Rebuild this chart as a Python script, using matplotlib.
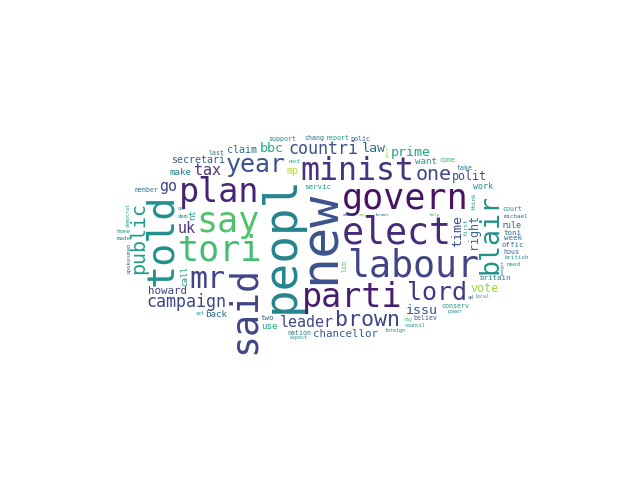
import numpy as np
import matplotlib
matplotlib.use("Agg")
import matplotlib.pyplot as plt

# word, relative size, vertical?, colour position on viridis
words = ["new", "peopl", "elect", "labour", "govern", "tori", "say", "said", "told", "parti",
         "plan", "minist", "mr", "blair", "year", "lord", "brown", "public", "one", "countri",
         "campaign", "uk", "leader", "tax", "time", "issu", "bbc", "law", "go", "prime",
         "polit", "right", "chancellor", "vote", "howard", "secretari", "claim", "mp", "want", "back",
         "nt", "make", "use", "call", "work", "rule", "servic", "two", "britain", "toni",
         "week", "offic", "conserv", "believ", "nation", "support", "member", "lib", "hous", "last",
         "chang", "report", "polic", "come", "take", "court", "michael", "british", "made", "first",
         "think", "spokesman", "home", "dem", "us", "need", "next", "local", "power", "day",
         "council", "foreign", "democrat", "expect", "ad", "set", "meet", "budget", "may", "gener",
         "former", "help", "problem", "allow", "group", "general", "mani", "increas", "million", "say"]
sizes = [62, 55, 44, 44, 42, 42, 42, 44, 46, 40,
         40, 38, 36, 32, 30, 30, 26, 24, 24, 20,
         20, 18, 18, 18, 16, 16, 16, 16, 18, 16,
         14, 14, 13, 14, 13, 12, 12, 12, 11, 11,
         11, 11, 11, 10, 10, 10, 9, 9, 9, 9,
         9, 9, 8, 8, 8, 8, 8, 8, 8, 8,
         8, 8, 8, 8, 8, 8, 7, 7, 7, 7,
         7, 7, 7, 7, 7, 7, 6, 6, 6, 6,
         6, 6, 6, 6, 6, 6, 5, 5, 5, 5,
         5, 5, 4, 4, 4, 4, 4, 4, 4, 3]
vertical = [1, 1, 0, 0, 0, 0, 0, 1, 1, 0,
            0, 0, 0, 1, 0, 0, 0, 1, 0, 0,
            0, 0, 0, 0, 1, 0, 0, 0, 0, 0,
            0, 1, 0, 0, 0, 0, 0, 0, 0, 0,
            1, 0, 0, 1, 0, 0, 0, 0, 0, 0,
            0, 0, 0, 0, 0, 0, 0, 1, 0, 0,
            0, 0, 0, 0, 0, 0, 0, 0, 0, 1,
            1, 1, 0, 0, 0, 0, 0, 0, 0, 0,
            0, 0, 1, 0, 0, 0, 0, 1, 0, 1,
            0, 0, 0, 0, 0, 0, 1, 0, 1, 0]
tones = [0.25, 0.45, 0.12, 0.2, 0.05, 0.7, 0.72, 0.2, 0.5, 0.08,
         0.1, 0.15, 0.2, 0.5, 0.25, 0.15, 0.2, 0.55, 0.2, 0.25,
         0.2, 0.15, 0.2, 0.15, 0.25, 0.25, 0.6, 0.35, 0.2, 0.6,
         0.25, 0.35, 0.3, 0.85, 0.2, 0.3, 0.35, 0.9, 0.55, 0.35,
         0.6, 0.4, 0.6, 0.55, 0.5, 0.3, 0.55, 0.3, 0.45, 0.35,
         0.35, 0.4, 0.5, 0.3, 0.4, 0.45, 0.4, 0.7, 0.3, 0.4,
         0.35, 0.55, 0.3, 0.65, 0.4, 0.5, 0.3, 0.5, 0.45, 0.6,
         0.55, 0.4, 0.55, 0.5, 0.45, 0.5, 0.6, 0.55, 0.5, 0.7,
         0.5, 0.45, 0.6, 0.55, 0.3, 0.5, 0.35, 0.4, 0.8, 0.85,
         0.3, 0.6, 0.45, 0.7, 0.55, 0.4, 0.6, 0.65, 0.5, 0.8]

W, H = 400, 200
scale = 0.6
fig = plt.figure(figsize=(6.4, 4.8), dpi=100)
ax = fig.add_axes([76 / 640, 120 / 480, 490 / 640, 245 / 480])
ax.set_xlim(0, W)
ax.set_ylim(H, 0)
ax.axis("off")
fig.canvas.draw()
renderer = fig.canvas.get_renderer()
px_per_unit = 490 / W

grid = np.zeros((H, W), dtype=bool)
cmap = plt.get_cmap("viridis")


def fits(x0, y0, w, h):
    if x0 < 0 or y0 < 0 or x0 + w > W or y0 + h > H:
        return False
    return not grid[y0:y0 + h, x0:x0 + w].any()


for word, s, v, c in zip(words, sizes, vertical, tones):
    fs = float(s) * scale
    rot = 90 if v else 0
    placed = False
    while fs >= 2.5 and not placed:
        t = ax.text(0, 0, word, fontsize=fs, rotation=rot, family="DejaVu Sans Mono")
        bb = t.get_window_extent(renderer)
        t.remove()
        w = int(np.ceil(bb.width / px_per_unit))
        h = int(np.ceil(bb.height / px_per_unit))
        # trim font padding a little
        if v:
            w = max(1, int(w * 0.85))
        else:
            h = max(1, int(h * 0.85))
        th = 0.0
        while th < 400:
            r = 0.5 * th
            cx = W / 2 + 2 * r * np.cos(th)
            cy = H / 2 + r * np.sin(th)
            x0, y0 = int(cx - w / 2), int(cy - h / 2)
            if fits(x0, y0, w, h):
                grid[y0:y0 + h, x0:x0 + w] = True
                ax.text(x0 + w / 2, y0 + h / 2, word, fontsize=fs, rotation=rot,
                        family="DejaVu Sans Mono",
                        ha="center", va="center", color=cmap(c))
                placed = True
                break
            th += 0.04
        if not placed:
            fs *= 0.85

fig.savefig("out.png", dpi=100)
